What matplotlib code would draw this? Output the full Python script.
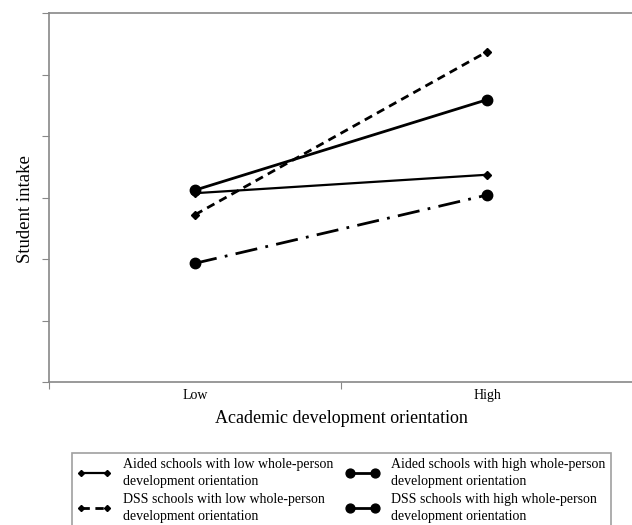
import matplotlib.pyplot as plt

plt.rcParams['font.family'] = ['Liberation Serif', 'DejaVu Serif']

levels = ['Low', 'High']
aided_low = [3.07, 3.37]
aided_high = [3.12, 4.59]
dss_low = [2.72, 5.37]
dss_high = [1.93, 3.04]

labels = ['Aided schools with low whole-person\ndevelopment orientation',
          'DSS schools with low whole-person\ndevelopment orientation',
          'Aided schools with high whole-person\ndevelopment orientation',
          'DSS schools with high whole-person\ndevelopment orientation']

fig = plt.figure(figsize=(6.32, 5.25), dpi=100)
ax = fig.add_axes([49 / 632, 1 - 382 / 525, 584 / 632, 369 / 525])

x = [0, 1]
l1, = ax.plot(x, aided_low, color='black', lw=1.6, marker='D', ms=3.6)
l2, = ax.plot(x, dss_low, color='black', lw=2, ls=(0, (3, 2)), marker='D', ms=3.6)
l3, = ax.plot(x, aided_high, color='black', lw=2, marker='o', ms=7.5)
l4, = ax.plot(x, dss_high, color='black', lw=2, ls=(0, (8, 3, 1, 3)), marker='o', ms=7.5)

ax.set_xlim(-0.5, 1.5)
ax.set_ylim(0, 6)
ax.set_yticks(range(7))
ax.set_yticklabels([])
ax.set_xticks([-0.5, 0.5, 1.5])
ax.set_xticklabels([])
ax.set_xticks(x, minor=True)
ax.set_xticklabels(levels, minor=True, fontsize=10)
ax.tick_params(axis='x', which='minor', length=0, pad=5)
ax.tick_params(which='major', length=5, color='#888888', direction='out')

for side in ['left', 'bottom', 'top']:
    ax.spines[side].set_color('#888888')
    ax.spines[side].set_linewidth(1.2)
ax.spines['right'].set_visible(False)

ax.set_xlabel('Academic development orientation', fontsize=13, labelpad=6)
ax.set_ylabel('Student intake', fontsize=13.5)
ax.yaxis.set_label_coords(-0.026, 0.47)

leg = fig.legend([l1, l2, l3, l4], labels, ncol=2, loc='upper left',
                 bbox_to_anchor=(72 / 632, 1 - 453 / 525), fontsize=10,
                 frameon=True, fancybox=False, edgecolor='#888888',
                 numpoints=2, markerscale=0.85,
                 handlelength=2.45, handletextpad=0.85, columnspacing=0.9,
                 labelspacing=0.3, borderpad=0.35, borderaxespad=0)
leg.get_frame().set_linewidth(1.2)
for t in leg.get_texts():
    t.set_linespacing(1.45)

fig.savefig('out.png', dpi=100)
